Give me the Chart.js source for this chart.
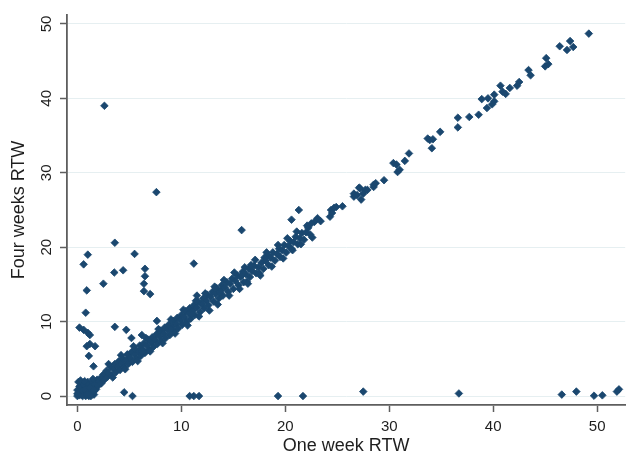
<!DOCTYPE html>
<html>
<head>
<meta charset="utf-8">
<title>One week vs four weeks RTW</title>
<script src="https://cdn.jsdelivr.net/npm/chart.js@4.4.1/dist/chart.umd.min.js"></script>
<style>
    html, body { margin: 0; padding: 0; background: #ffffff; }
    #wrap { width: 630px; height: 457px; }
</style>
</head>
<body>
<div id="wrap"><canvas id="rtwChart" width="630" height="457"></canvas></div>
<script>
// ========== DATA ==========
const xTicks = [0, 10, 20, 30, 40, 50];
const yTicks = [0, 10, 20, 30, 40, 50];

// dense blob near the origin
const originOneWeek = [
    0.0, 0.1, 0.2, 0.3, 0.4, 0.5, 0.6, 0.7, 0.8, 0.9,
    1.0, 1.1, 1.2, 1.3, 1.4, 1.5, 0.0, 0.2, 0.4, 0.6,
    0.8, 1.0, 1.2, 1.4, 1.6, 1.7, 1.8, 0.1, 0.5, 1.1,
    1.9, 2.0, 0.3, 0.7, 1.5, 1.3, 0.0, 0.9, 1.6, 2.1
];
const originFourWeeks = [
    0.0, 0.4, 0.1, 0.7, 0.2, 1.0, 0.3, 0.6, 0.0, 1.2,
    0.4, 0.9, 0.1, 1.5, 0.5, 1.1, 0.8, 1.3, 0.6, 1.6,
    0.8, 1.9, 1.2, 1.9, 0.2, 1.6, 0.9, 1.9, 0.0, 0.0,
    2.2, 1.4, 2.1, 2.0, 2.3, 0.0, 0.3, 0.2, 0.7, 2.0
];

// main diagonal band, 2 to 22 weeks
const bandOneWeek = [
    2.2, 2.3, 2.5, 2.6, 2.8, 2.9, 3.0, 3.2, 3.3, 3.5,
    3.6, 3.7, 3.9, 4.0, 4.1, 4.3, 4.4, 4.5, 4.7, 4.8,
    4.9, 5.1, 5.2, 5.3, 5.5, 5.6, 5.7, 5.9, 6.0, 6.1,
    6.3, 6.4, 6.5, 6.7, 6.8, 6.9, 7.1, 7.2, 7.3, 7.5,
    7.6, 7.7, 7.9, 8.0, 8.1, 8.3, 8.4, 8.5, 8.7, 8.8,
    8.9, 9.1, 9.2, 9.3, 9.5, 9.6, 9.7, 9.9, 10.0, 10.1,
    10.3, 10.4, 10.5, 10.7, 10.8, 10.9, 11.1, 11.2, 11.3, 11.5,
    11.6, 11.8, 11.9, 12.1, 12.2, 12.4, 12.5, 12.6, 12.8, 13.0,
    13.1, 13.3, 13.4, 13.6, 13.8, 13.9, 14.0, 14.2, 14.4, 14.5,
    14.7, 14.9, 15.0, 15.2, 15.4, 15.5, 15.7, 15.9, 16.0, 16.2,
    16.3, 16.5, 16.6, 16.8, 17.0, 17.2, 17.4, 17.5, 17.7, 17.9,
    18.1, 18.3, 18.4, 18.6, 18.8, 19.0, 19.2, 19.4, 19.5, 19.7,
    19.9, 20.1, 20.3, 20.5, 20.6, 20.8, 21.0, 21.2, 21.4, 21.6,
    21.8, 22.0, 22.2, 22.4, 16.7, 18.0, 13.7, 11.0, 9.0, 6.2
];
const bandFourWeeks = [
    2.4, 1.7, 2.9, 2.2, 3.4, 2.6, 3.1, 3.9, 2.8, 3.6,
    4.3, 3.2, 4.0, 4.7, 3.5, 4.4, 5.0, 3.9, 4.8, 5.6,
    4.3, 5.1, 5.9, 4.6, 5.6, 6.3, 5.0, 6.0, 6.8, 5.4,
    6.3, 7.1, 5.8, 6.8, 7.6, 6.2, 7.2, 7.9, 6.6, 7.5,
    8.3, 7.0, 8.0, 8.8, 7.4, 8.4, 9.2, 7.8, 8.9, 9.6,
    8.2, 9.3, 10.1, 8.7, 9.7, 10.5, 9.1, 10.2, 10.9, 9.6,
    10.6, 11.4, 10.0, 11.1, 11.8, 10.4, 11.5, 12.2, 10.9, 11.9,
    12.7, 11.3, 12.4, 13.1, 11.8, 12.8, 13.6, 12.2, 13.3, 14.0,
    12.7, 13.7, 14.5, 13.1, 14.2, 14.9, 13.5, 14.6, 15.3, 14.0,
    15.1, 15.8, 14.4, 15.5, 16.2, 14.9, 16.0, 16.7, 15.3, 16.4,
    15.4, 17.1, 16.0, 16.8, 17.5, 16.5, 17.3, 16.5, 17.9, 17.1,
    18.2, 18.9, 17.6, 18.6, 19.3, 18.2, 19.1, 19.8, 18.7, 19.6,
    20.3, 19.3, 20.2, 20.8, 19.8, 20.7, 21.4, 20.4, 21.2, 21.9,
    21.0, 22.0, 22.6, 21.7, 17.6, 18.6, 13.9, 11.0, 9.0, 6.0
];

// ragged edges of the band
const edgeOneWeek = [
    3.0, 3.4, 4.2, 4.6, 5.4, 5.8, 6.6, 7.0, 7.8, 8.2,
    9.0, 9.4, 10.2, 10.6, 11.4, 11.7, 12.3, 12.7, 13.2, 13.5,
    14.1, 14.6, 15.1, 15.6, 16.1, 16.4, 17.1, 17.6, 18.2, 18.7,
    19.3, 19.8, 20.2, 20.7, 21.1, 21.5, 22.1, 22.6, 12.0, 15.8
];
const edgeFourWeeks = [
    4.3, 2.5, 5.5, 3.6, 6.7, 4.7, 7.8, 6.0, 9.0, 7.1,
    10.3, 8.4, 11.6, 9.5, 12.8, 10.7, 13.8, 11.5, 14.7, 12.3,
    15.6, 13.5, 16.6, 14.4, 17.3, 15.1, 18.3, 16.2, 19.3, 17.4,
    20.3, 18.5, 21.2, 19.6, 22.1, 20.4, 22.9, 21.3, 12.4, 16.2
];

// sparser upper part of the diagonal
const upperOneWeek = [
    22.8, 23.1, 22.5, 23.4, 24.3, 24.4, 24.5, 24.7, 24.9, 25.5,
    26.6, 26.6, 26.9, 27.1, 27.2, 27.3, 27.5, 27.7, 27.9, 28.5,
    28.5, 28.7, 29.5, 30.4, 30.7, 30.8, 31.0, 31.5, 31.9, 33.7,
    33.9, 34.1, 34.2, 34.9, 36.6, 36.6, 37.7, 38.6, 38.9, 39.4,
    39.5, 39.9, 40.1, 40.1, 40.7, 40.9, 41.2, 41.6, 42.3, 42.5,
    43.4, 43.6, 45.0, 45.3, 45.1, 46.4, 47.1, 47.4, 47.7, 49.2
];
const upperFourWeeks = [
    23.4, 23.9, 23.2, 23.5, 24.1, 25.0, 24.6, 25.3, 25.4, 25.5,
    26.8, 27.2, 27.0, 28.0, 27.9, 26.4, 27.2, 27.7, 27.7, 28.1,
    28.4, 28.6, 29.0, 31.3, 31.1, 30.1, 30.4, 31.6, 32.6, 34.6,
    34.4, 33.3, 34.5, 35.5, 37.4, 36.1, 37.5, 37.8, 39.9, 38.7,
    40.0, 39.2, 40.5, 39.6, 41.7, 40.9, 40.6, 41.4, 41.7, 42.2,
    43.8, 43.1, 44.3, 44.6, 45.4, 47.0, 46.5, 47.7, 46.9, 48.7
];

// points well above the diagonal
const outlierOneWeek = [
    2.6, 7.6, 15.8, 3.6, 0.6, 1.0, 5.5, 0.9, 2.5, 3.55,
    4.4, 6.5, 6.5, 6.4, 6.4, 7.0, 11.2, 11.5, 0.8, 0.2,
    0.6, 1.0, 1.2, 0.9, 1.2, 1.7, 1.1, 1.55, 3.6, 4.7,
    5.2, 7.65, 20.6, 21.3, 6.2
];
const outlierFourWeeks = [
    39.0, 27.4, 22.3, 20.6, 17.7, 19.0, 19.1, 14.2, 15.1, 16.6,
    16.9, 17.1, 16.1, 15.1, 14.1, 13.7, 17.8, 13.5, 11.2, 9.2,
    8.9, 8.5, 8.2, 6.7, 7.0, 6.7, 5.4, 4.0, 9.3, 8.9,
    7.8, 10.1, 23.7, 25.0, 8.2
];

// back to work after one week but not after four
const zeroOneWeek = [4.5, 5.3, 10.8, 11.2, 11.7, 19.3, 21.7, 27.5, 36.7, 46.6, 48.0, 49.7, 50.5, 51.9, 52.1];
const zeroFourWeeks = [0.5, 0.0, 0.0, 0.0, 0.0, 0.0, 0.0, 0.6, 0.35, 0.2, 0.6, 0.05, 0.1, 0.6, 0.9];

// ========== CHART ==========
function toPoints(xs, ys) {
    return xs.map((x, i) => ({ x: x, y: ys[i] }));
}

const rtwPoints = [].concat(
    toPoints(originOneWeek, originFourWeeks),
    toPoints(bandOneWeek, bandFourWeeks),
    toPoints(edgeOneWeek, edgeFourWeeks),
    toPoints(upperOneWeek, upperFourWeeks),
    toPoints(outlierOneWeek, outlierFourWeeks),
    toPoints(zeroOneWeek, zeroFourWeeks)
);

const markerColor = '#1a476f';
const axisColor = '#5e5e5e';
const textColor = '#1e1e1e';
const fontFamily = '"Liberation Sans", Arial, sans-serif';

const ctx = document.getElementById('rtwChart').getContext('2d');
new Chart(ctx, {
    type: 'scatter',
    data: {
        datasets: [{
            label: 'RTW',
            data: rtwPoints,
            pointStyle: 'rectRot',
            pointRadius: 3.8,
            pointBorderWidth: 0.8,
            backgroundColor: markerColor,
            borderColor: markerColor
        }]
    },
    options: {
        responsive: false,
        animation: false,
        layout: { padding: { top: 15, right: 0, bottom: 0, left: 0 } },
        plugins: {
            legend: { display: false },
            tooltip: { enabled: false }
        },
        scales: {
            x: {
                type: 'linear',
                min: -1,
                max: 52.7,
                afterBuildTicks: s => { s.ticks = xTicks.map(v => ({ value: v })); },
                afterFit: s => { s.height = 52; },
                grid: { drawOnChartArea: false, drawTicks: true, tickLength: 7, tickColor: axisColor, tickWidth: 1.5 },
                border: { display: true, color: axisColor, width: 1.8 },
                ticks: { color: textColor, font: { family: fontFamily, size: 15 }, padding: 6, maxRotation: 0 },
                title: {
                    display: true, text: 'One week RTW', color: textColor,
                    font: { family: fontFamily, size: 18 }, padding: { top: 0, bottom: 0 }
                }
            },
            y: {
                type: 'linear',
                min: -1.2,
                max: 51.2,
                afterBuildTicks: s => { s.ticks = yTicks.map(v => ({ value: v })); },
                afterFit: s => { s.width = 67; },
                grid: { color: '#e6eff1', lineWidth: 1, drawTicks: true, tickLength: 7, tickColor: axisColor, tickWidth: 1.5 },
                border: { display: true, color: axisColor, width: 1.8 },
                ticks: {
                    color: textColor, font: { family: fontFamily, size: 15 },
                    minRotation: 90, maxRotation: 90, crossAlign: 'center', padding: 5
                },
                title: {
                    display: true, text: 'Four weeks RTW', color: textColor,
                    font: { family: fontFamily, size: 18 }, padding: { top: 8, bottom: 0 }
                }
            }
        }
    }
});
</script>
</body>
</html>
